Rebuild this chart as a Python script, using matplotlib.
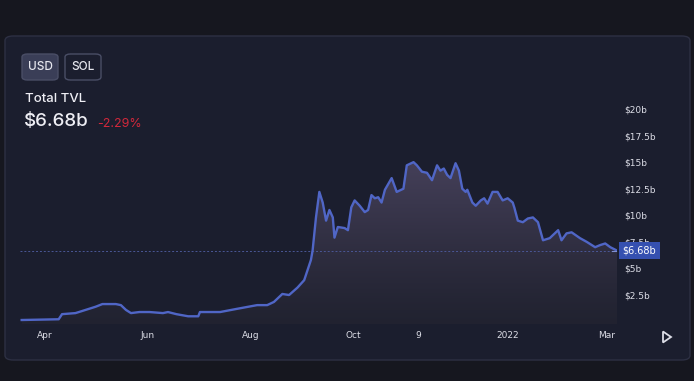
import datetime as dt
import numpy as np
import matplotlib
matplotlib.use("Agg")
import matplotlib.pyplot as plt
import matplotlib.dates as mdates
from matplotlib.patches import FancyBboxPatch, Polygon

# --- data ($ billions) ---
dates = ["2021-03-18", "2021-04-09", "2021-04-11", "2021-04-19", "2021-04-25", "2021-05-01",
         "2021-05-05", "2021-05-13", "2021-05-16", "2021-05-19", "2021-05-22", "2021-05-27",
         "2021-06-02", "2021-06-10", "2021-06-13", "2021-06-18", "2021-06-25", "2021-07-01",
         "2021-07-02", "2021-07-14", "2021-07-24", "2021-08-05", "2021-08-11", "2021-08-15",
         "2021-08-20", "2021-08-24", "2021-08-29", "2021-09-02", "2021-09-04", "2021-09-06",
         "2021-09-07", "2021-09-09", "2021-09-11", "2021-09-13", "2021-09-15", "2021-09-17",
         "2021-09-19", "2021-09-20", "2021-09-22", "2021-09-26", "2021-09-28", "2021-09-30",
         "2021-10-02", "2021-10-05", "2021-10-08", "2021-10-10", "2021-10-12", "2021-10-14",
         "2021-10-16", "2021-10-18", "2021-10-20", "2021-10-24", "2021-10-27", "2021-10-31",
         "2021-11-02", "2021-11-06", "2021-11-08", "2021-11-11", "2021-11-14", "2021-11-17",
         "2021-11-20", "2021-11-22", "2021-11-24", "2021-11-26", "2021-11-28", "2021-12-01",
         "2021-12-03", "2021-12-05", "2021-12-07", "2021-12-08", "2021-12-11", "2021-12-13",
         "2021-12-16", "2021-12-18", "2021-12-20", "2021-12-23", "2021-12-26", "2021-12-29",
         "2022-01-01", "2022-01-04", "2022-01-05", "2022-01-07", "2022-01-10", "2022-01-13",
         "2022-01-16", "2022-01-19", "2022-01-22", "2022-01-26", "2022-01-29", "2022-01-31",
         "2022-02-02", "2022-02-05", "2022-02-08", "2022-02-13", "2022-02-17", "2022-02-22",
         "2022-02-25", "2022-02-28", "2022-03-03", "2022-03-07"]
tvl = [0.15, 0.22, 0.7, 0.8, 1.1, 1.4,
       1.65, 1.65, 1.55, 1.1, 0.8, 0.9,
       0.9, 0.8, 0.9, 0.7, 0.5, 0.5,
       0.9, 0.9, 1.2, 1.55, 1.55, 1.85,
       2.6, 2.5, 3.2, 3.9, 4.85, 5.8,
       6.7, 9.8, 12.2, 11.2, 9.5, 10.5,
       9.8, 7.9, 8.9, 8.8, 8.6, 10.75,
       11.4, 10.9, 10.3, 10.5, 11.9, 11.6,
       11.7, 11.2, 12.4, 13.5, 12.2, 12.5,
       14.7, 15.0, 14.7, 14.1, 14.0, 13.3,
       14.7, 14.2, 14.4, 13.8, 13.5, 14.9,
       14.2, 12.5, 12.2, 12.4, 11.2, 10.9,
       11.4, 11.6, 11.1, 12.2, 12.2, 11.4,
       11.6, 11.2, 10.7, 9.5, 9.35, 9.7,
       9.8, 9.35, 7.65, 7.85, 8.3, 8.6,
       7.65, 8.3, 8.4, 7.85, 7.5, 7.0,
       7.2, 7.35, 7.0, 6.68]
tick_dates = ["2021-04-01", "2021-06-01", "2021-08-01", "2021-10-01", "2021-11-09", "2022-01-01", "2022-03-01"]
tick_labels = ["Apr", "Jun", "Aug", "Oct", "9", "2022", "Mar"]
y_ticks = [2.5, 5, 7.5, 10, 12.5, 15, 17.5, 20]
y_labels = ["$2.5b", "$5b", "$7.5b", "$10b", "$12.5b", "$15b", "$17.5b", "$20b"]
current_label = "$6.68b"
change_label = "-2.29%"
current_value = 6.68

W, H = 694, 381
outer_bg = "#16171f"
card_bg = "#1b1e2e"
line_col = "#5066c6"
text_col = "#dcdde6"

fig = plt.figure(figsize=(W / 100, H / 100), dpi=100, facecolor=outer_bg)


def px(x, y):
    # pixel (from top-left) -> figure fraction
    return x / W, 1 - y / H


# card
cx, cy = px(5, 360)
fig.patches.append(FancyBboxPatch((cx, cy), 685 / W, 324 / H, boxstyle="round,pad=0,rounding_size=0.012",
                                  transform=fig.transFigure, facecolor=card_bg, edgecolor="#2d3043",
                                  linewidth=1.0, zorder=-5))

# chart
ax_l, ax_r, ax_t, ax_b = 20, 617, 95, 324
ax = fig.add_axes([ax_l / W, 1 - ax_b / H, (ax_r - ax_l) / W, (ax_b - ax_t) / H])
ax.set_zorder(1)
ax.set_facecolor("none")
x = mdates.date2num([dt.datetime.strptime(d, "%Y-%m-%d") for d in dates])
y = np.array(tvl)
y0 = -(ax_b - 321.6) / 10.63
y1 = (321.6 - ax_t) / 10.63

# gradient fill under the line
grad = np.linspace(0, 1, 256).reshape(-1, 1)
top_c = np.array([0.27, 0.25, 0.35])
bot_c = np.array([0.13, 0.135, 0.19])
img = bot_c + (top_c - bot_c) * grad[..., None] ** 1.2
im = ax.imshow(img, extent=[x[0], x[-1], y0, y.max()], origin="lower", aspect="auto", zorder=1)
verts = np.vstack([[x[0], y0], np.column_stack([x, y]), [x[-1], y0]])
clip = Polygon(verts, closed=True, transform=ax.transData, facecolor="none", edgecolor="none")
ax.add_patch(clip)
im.set_clip_path(clip)
ax.set_xlim(x[0] - 1, x[-1])
ax.set_ylim(y0, y1)
ax.plot(x, y, color=line_col, lw=1.7, zorder=3, solid_joinstyle="round")

ax.axhline(current_value, color="#4a5796", lw=0.7, ls=(0, (2, 2)), zorder=2)

ax.set_xticks(mdates.date2num([dt.datetime.strptime(d, "%Y-%m-%d") for d in tick_dates]))
ax.set_xticklabels(tick_labels)
ax.yaxis.tick_right()
ax.set_yticks(y_ticks)
ax.set_yticklabels(y_labels)
ax.tick_params(axis="both", length=0, colors=text_col, labelsize=6.5)
ax.tick_params(axis="x", pad=5)
ax.tick_params(axis="y", pad=5.5)
for s in ax.spines.values():
    s.set_visible(False)

# current value tag
fig.text(*px(639.5, 250.5), current_label, color="white", fontsize=7, ha="center", va="center", zorder=5,
         bbox=dict(boxstyle="square,pad=0.35", facecolor="#3550b0", edgecolor="none"))
fig.lines.append(plt.Line2D([612 / W, 616 / W], [1 - 250.5 / H] * 2, transform=fig.transFigure,
                            color="#8090d0", lw=0.8))

# header buttons
for bx, label, fc in [(22, "USD", "#3a3e57"), (65, "SOL", card_bg)]:
    lx, ly = px(bx, 80)
    fig.patches.append(FancyBboxPatch((lx, ly), 36 / W, 26 / H, boxstyle="round,pad=0,rounding_size=0.008",
                                      transform=fig.transFigure, facecolor=fc, edgecolor="#4a4e66",
                                      linewidth=1.0, zorder=2))
    fig.text(*px(bx + 18, 67.5), label, color="#e6e7ee", fontsize=8.5, family="Inter", weight="medium",
             ha="center", va="center", zorder=3)

fig.text(*px(25, 99), "Total TVL", color="#eeeef4", fontsize=9.5, family="Inter", weight="medium", va="center")
fig.text(*px(24, 122), current_label, color="#eeeef4", fontsize=13.5, family="Inter", weight="medium", va="center")
fig.text(*px(97, 124), change_label, color="#d1283b", fontsize=9, family="Inter", va="center")

# play/scroll icon
tri = Polygon([px(663, 331.5), px(663, 342.5), px(671, 337)], closed=True, transform=fig.transFigure,
              facecolor="none", edgecolor=text_col, lw=1.3)
fig.patches.append(tri)

fig.savefig("out.png", dpi=100, facecolor=outer_bg)
